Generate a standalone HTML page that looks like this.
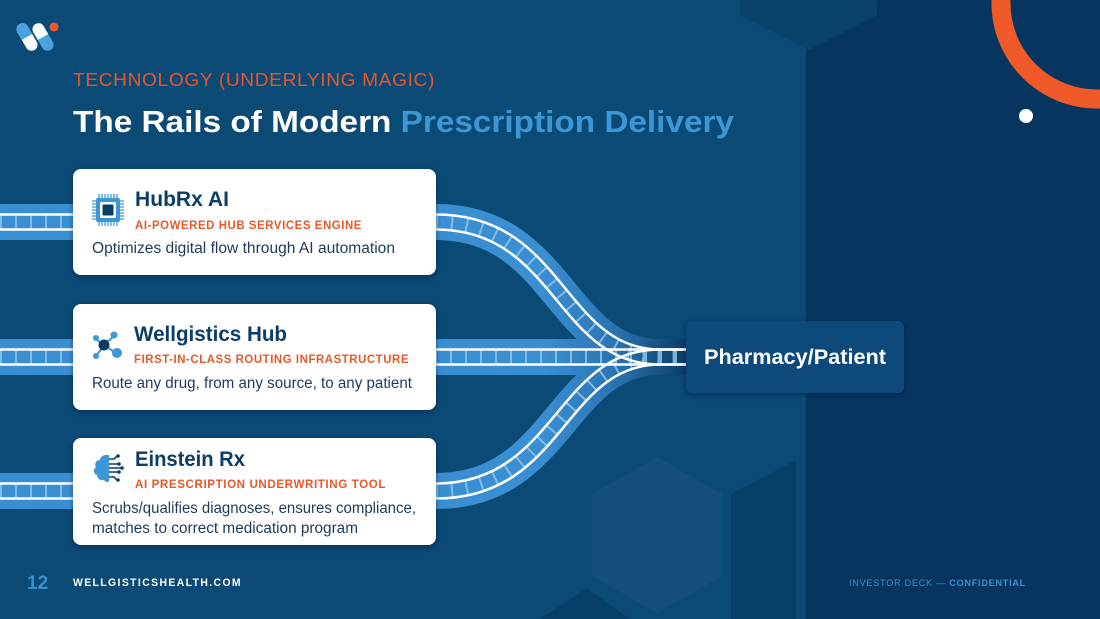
<!DOCTYPE html>
<html><head><meta charset="utf-8"><style>
html,body{margin:0;padding:0;background:#0b4a75;}
svg{display:block;font-family:"Liberation Sans",sans-serif;}
</style></head><body>
<svg width="1100" height="619" viewBox="0 0 1100 619" xmlns="http://www.w3.org/2000/svg">
<defs>
<linearGradient id="fade" gradientUnits="userSpaceOnUse" x1="540" y1="0" x2="690" y2="0">
<stop offset="0" stop-color="#3a8fd3"/><stop offset="0.5" stop-color="#2a74b2"/><stop offset="1" stop-color="#0a3a62"/></linearGradient>
<filter id="sh" x="-10%" y="-10%" width="120%" height="130%"><feDropShadow dx="0" dy="2" stdDeviation="3" flood-color="#021a30" flood-opacity="0.45"/></filter>
</defs>
<rect width="1100" height="619" fill="#0b4a75"/>
<rect x="806" y="0" width="294" height="619" fill="#06365f"/>
<polygon points="740,0 877,0 877,15 809,50 740,15" fill="#0a426c"/>
<polygon points="657,457 722,494 722,576 657,613 592,576 592,494" fill="#134f7a"/>
<polygon points="731,494 796,460 796,619 731,619" fill="#083f69"/>
<polygon points="540,619 587,588 630,619" fill="#083f69"/>
<circle cx="1097" cy="3" r="96" fill="none" stroke="#f05a28" stroke-width="19"/>
<circle cx="1026" cy="116" r="7" fill="#fff"/>
<g transform="translate(27,37) rotate(-30)"><rect x="-6" y="-15" width="12" height="30" rx="6" fill="#fff"/><path d="M-6,0 V-9 A6,6 0 0 1 6,-9 V0 Z" fill="#4aa3e0"/></g>
<g transform="translate(43,37) rotate(-30)"><rect x="-6" y="-15" width="12" height="30" rx="6" fill="#4aa3e0"/><path d="M-6,0 V-9 A6,6 0 0 1 6,-9 V0 Z" fill="#fff"/></g>
<circle cx="54" cy="27" r="4.5" fill="#f05a28"/>
<text x="73" y="86" font-size="18" fill="#e8572a" letter-spacing="0.6" textLength="362" lengthAdjust="spacingAndGlyphs">TECHNOLOGY (UNDERLYING MAGIC)</text>
<text x="73" y="132" font-size="31" font-weight="bold" fill="#fff" textLength="661" lengthAdjust="spacingAndGlyphs"><tspan>The Rails of Modern </tspan><tspan fill="#3b97d6">Prescription Delivery</tspan></text>
<g fill="none">
<path d="M0,222 H73 M436,222 C560,222 560,357 660,357 H690" stroke="url(#fade)" stroke-width="36"/>
<path d="M0,357 H690" stroke="url(#fade)" stroke-width="36"/>
<path d="M0,491 H73 M436,491 C560,491 560,357 660,357 H690" stroke="url(#fade)" stroke-width="36"/>
<g stroke="#8ec5ef" stroke-width="14" stroke-dasharray="2 13" opacity="0.85">
<path d="M0,222 H73 M436,222 C560,222 560,357 660,357 H690"/>
<path d="M0,357 H690"/>
<path d="M0,491 H73 M436,491 C560,491 560,357 660,357 H690"/>
</g>
<g stroke="#fff" stroke-width="2.5">
<path d="M0,214.5 H73 M436,214.5 C564,214.5 564,349.5 660,349.5 H686"/>
<path d="M0,229.5 H73 M436,229.5 C556,229.5 556,364.5 660,364.5 H686"/>
<path d="M0,349.5 H686"/><path d="M0,364.5 H686"/>
<path d="M0,483.5 H73 M436,483.5 C556,483.5 556,349.5 660,349.5"/>
<path d="M0,498.5 H73 M436,498.5 C564,498.5 564,364.5 660,364.5"/>
</g>
</g>
<g filter="url(#sh)" fill="#fff">
<rect x="73" y="169" width="363" height="106" rx="8"/>
<rect x="73" y="304" width="363" height="106" rx="8"/>
<rect x="73" y="438" width="363" height="107" rx="8"/>
</g>
<g fill="#3b97d6"><rect x="96" y="198" width="24" height="24" rx="2"/>
<g stroke="#3b97d6" stroke-width="1.3"><path d="M99,194v4M102,194v4M105,194v4M108,194v4M111,194v4M114,194v4M117,194v4M99,222v4M102,222v4M105,222v4M108,222v4M111,222v4M114,222v4M117,222v4M92,201h4M92,204h4M92,207h4M92,210h4M92,213h4M92,216h4M92,219h4M120,201h4M120,204h4M120,207h4M120,210h4M120,213h4M120,216h4M120,219h4"/></g></g>
<rect x="100" y="202" width="16" height="16" rx="1.5" fill="#fff"/><rect x="102.5" y="204.5" width="11" height="11" rx="1" fill="#0b3d66"/>
<g stroke="#3b97d6" stroke-width="2"><path d="M104,345 L96,339 M104,345 L114,336 M104,345 L116,353 M104,345 L97,355"/></g>
<circle cx="96" cy="338" r="3" fill="#3b97d6"/><circle cx="114" cy="335" r="3.5" fill="#3b97d6"/><circle cx="117" cy="353" r="5" fill="#3b97d6"/><circle cx="96" cy="356" r="3" fill="#3b97d6"/><circle cx="104" cy="345" r="5.5" fill="#0b3d66"/>
<path d="M106,455 c-4,0 -6,3 -6,5 c-4,0 -6,4 -4,7 c-3,2 -3,7 1,8 c0,3 3,6 7,5 c2,3 5,2 5,1 V455z" fill="#3b97d6"/>
<g stroke="#0b3d66" stroke-width="1.6" fill="none"><path d="M109,459 h5 l3,-3 M109,464 h9 M109,468 h12 M109,472 h9 M109,477 h5 l3,3"/></g>
<g fill="#0b3d66"><circle cx="118" cy="456" r="1.8"/><circle cx="119" cy="464" r="1.8"/><circle cx="122" cy="468" r="1.8"/><circle cx="119" cy="472" r="1.8"/><circle cx="118" cy="480" r="1.8"/></g>
<g fill="#0b3d66" font-weight="bold" font-size="21">
<text x="135" y="206" textLength="94" lengthAdjust="spacingAndGlyphs">HubRx AI</text>
<text x="134" y="341" textLength="153" lengthAdjust="spacingAndGlyphs">Wellgistics Hub</text>
<text x="135" y="466" textLength="110" lengthAdjust="spacingAndGlyphs">Einstein Rx</text></g>
<g fill="#e8572a" font-weight="bold" font-size="12" letter-spacing="0.6">
<text x="135" y="229" textLength="227" lengthAdjust="spacingAndGlyphs">AI-POWERED HUB SERVICES ENGINE</text>
<text x="134" y="363" textLength="275" lengthAdjust="spacingAndGlyphs">FIRST-IN-CLASS ROUTING INFRASTRUCTURE</text>
<text x="135" y="488" textLength="251" lengthAdjust="spacingAndGlyphs">AI PRESCRIPTION UNDERWRITING TOOL</text></g>
<g fill="#1e3a5a" font-size="15.5">
<text x="92" y="253" textLength="303" lengthAdjust="spacingAndGlyphs">Optimizes digital flow through AI automation</text>
<text x="92" y="388" textLength="320" lengthAdjust="spacingAndGlyphs">Route any drug, from any source, to any patient</text>
<text x="92" y="513" textLength="324" lengthAdjust="spacingAndGlyphs">Scrubs/qualifies diagnoses, ensures compliance,</text>
<text x="92" y="533" textLength="266" lengthAdjust="spacingAndGlyphs">matches to correct medication program</text></g>
<rect x="686" y="321" width="218" height="72" rx="6" fill="#0d4a7a" filter="url(#sh)"/>
<text x="795" y="364" font-size="21" font-weight="bold" fill="#fff" text-anchor="middle" textLength="182" lengthAdjust="spacingAndGlyphs">Pharmacy/Patient</text>
<text x="27" y="589" font-size="19" font-weight="bold" fill="#3b8fd0">12</text>
<text x="73" y="586" font-size="11" font-weight="bold" fill="#fff" letter-spacing="1.5" textLength="169" lengthAdjust="spacingAndGlyphs">WELLGISTICSHEALTH.COM</text>
<text x="849" y="586" font-size="9.5" fill="#3b8fd0" letter-spacing="0.8" textLength="177" lengthAdjust="spacingAndGlyphs">INVESTOR DECK — <tspan font-weight="bold">CONFIDENTIAL</tspan></text>
</svg>
</body></html>
